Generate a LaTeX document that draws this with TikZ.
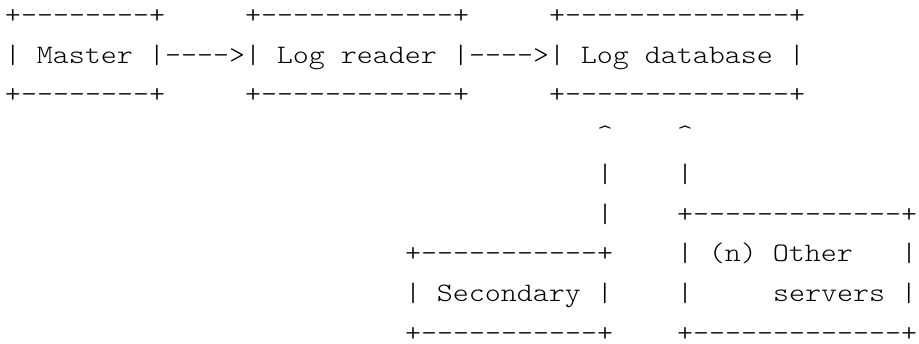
\documentclass[tikz,border=0pt]{standalone}
\usepackage{fontspec}
\setmonofont[FakeStretch=1.1428]{lmmonolt10-regular.otf}
\begin{document}
\begin{tikzpicture}[x=1pt,y=-1pt,
  txt/.style={inner sep=0pt,outer sep=0pt,anchor=base west,
    font=\ttfamily\fontsize{26.67pt}{40pt}\selectfont}]
\useasboundingbox (0,0) rectangle (919,344);
\newcommand\seg[4]{\node[txt] (#1) at ({5+16*#3},{23.5+39.75*#2}) {#4};}
% row 0
\seg{masterTop}{0}{0}{+--------+}
\seg{readerTop}{0}{15}{+------------+}
\seg{dbTop}{0}{34}{+--------------+}
% row 1
\seg{masterMid}{1}{0}{| Master |}
\seg{arrowA}{1}{10}{---->}
\seg{readerMid}{1}{15}{| Log reader |}
\seg{arrowB}{1}{29}{---->}
\seg{dbMid}{1}{34}{| Log database |}
% row 2
\seg{masterBot}{2}{0}{+--------+}
\seg{readerBot}{2}{15}{+------------+}
\seg{dbBot}{2}{34}{+--------------+}
% row 3
\seg{headA}{3}{37}{\textasciicircum}
\seg{headB}{3}{42}{\textasciicircum}
% row 4
\seg{shaftA}{4}{37}{|}
\seg{shaftB}{4}{42}{|}
% row 5
\seg{shaftAb}{5}{37}{|}
\seg{otherTop}{5}{42}{+-------------+}
% row 6
\seg{secTop}{6}{25}{+-----------+}
\seg{otherMidA}{6}{42}{| (n) Other}
\seg{otherMidAr}{6}{56}{|}
% row 7
\seg{secMid}{7}{25}{| Secondary |}
\seg{otherMidBl}{7}{42}{|}
\seg{otherMidB}{7}{48}{servers |}
% row 8
\seg{secBot}{8}{25}{+-----------+}
\seg{otherBot}{8}{42}{+-------------+}
\end{tikzpicture}
\end{document}
